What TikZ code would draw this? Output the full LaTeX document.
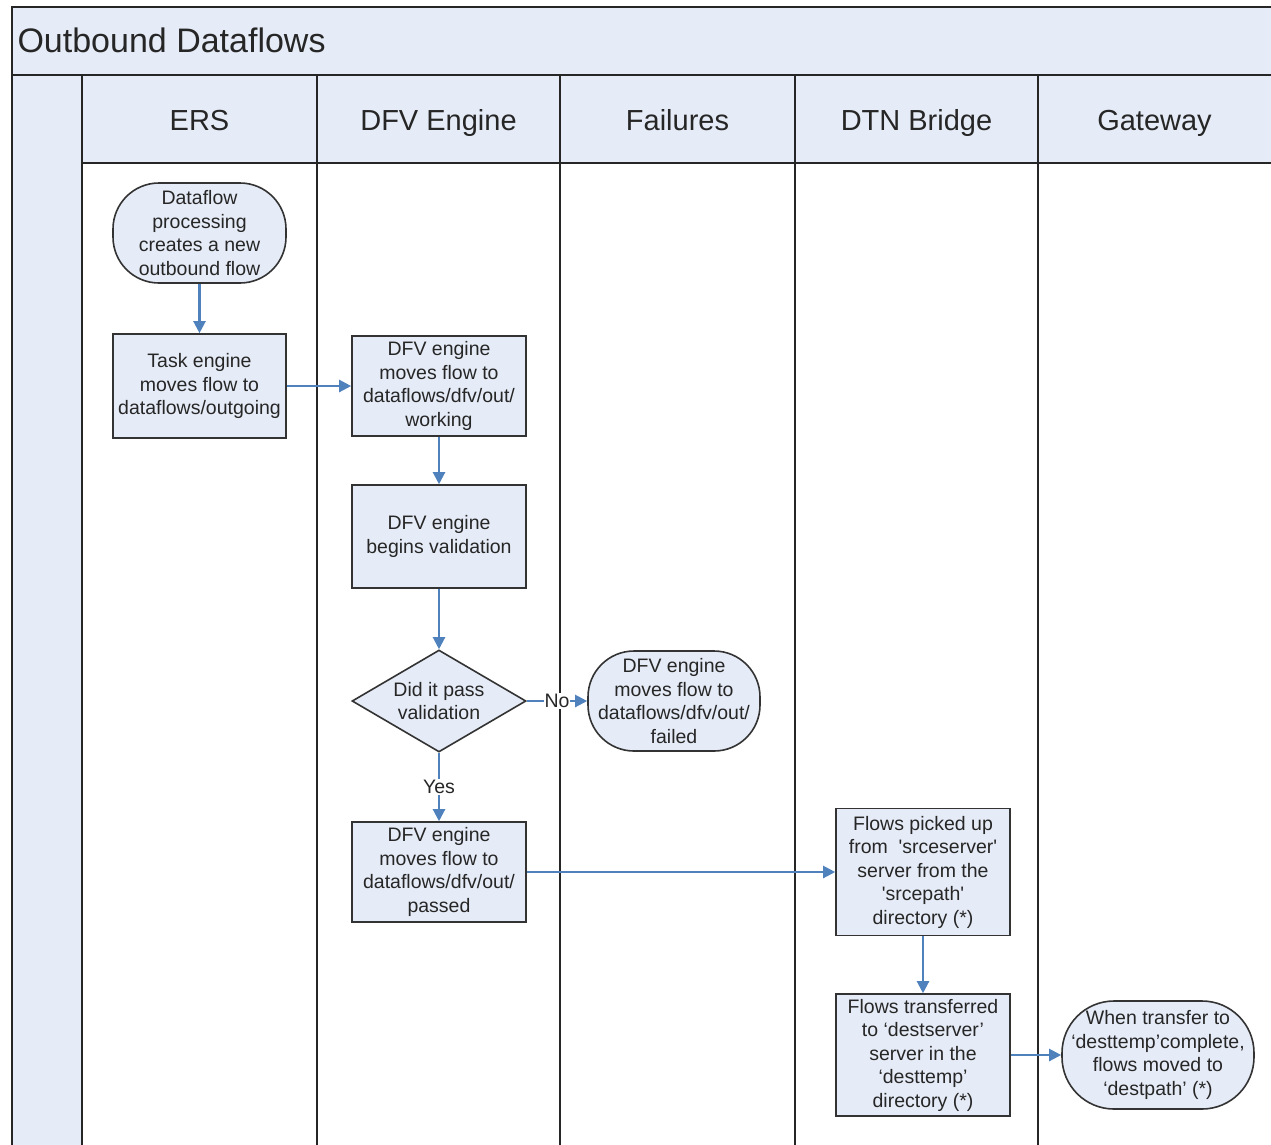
\documentclass[tikz,border=0pt]{standalone}
\usepackage{fontspec}
\setmainfont{Liberation Sans}
\usetikzlibrary{shapes.geometric,arrows.meta}
\definecolor{lanefill}{HTML}{E6ECF7}
\definecolor{flowblue}{HTML}{4F81BD}
\definecolor{boxline}{HTML}{333333}
\definecolor{txt}{HTML}{262626}
\begin{document}
\begin{tikzpicture}[x=1pt,y=-1pt,
  boxtext/.style={font=\fontsize{19.5}{23.5}\selectfont, align=center, text=txt},
  procbox/.style={boxtext, draw=boxline, line width=1.6pt, fill=lanefill, minimum width=174pt, inner sep=0pt},
  termbox/.style={procbox, rounded corners=46pt},
  decbox/.style={boxtext, diamond, aspect=1.7, draw=boxline, line width=1.6pt, fill=lanefill, minimum width=174pt, minimum height=102pt, inner sep=0pt},
  arr/.style={draw=flowblue, line width=2.2pt, -{Triangle[length=12pt,width=12pt]}},
  lbl/.style={boxtext, fill=white, inner sep=1pt},
  lane/.style={draw=black!85, line width=2.8pt},
  hdr/.style={font=\fontsize{29}{33}\selectfont, text=txt, anchor=base}
]
\clip (0,0) rectangle (1271,1144);
\fill[white] (0,0) rectangle (1271,1144);
% title band and header band
\fill[lanefill] (12,7) rectangle (1290,163);
\fill[lanefill] (12,75) rectangle (82,1150);
\draw[lane] (1290,7) -- (12,7) -- (12,1150);
\draw[lane] (12,75) -- (1290,75);
\draw[lane] (82,163) -- (1290,163);
\foreach \x in {82,317,560,795,1038} {\draw[lane] (\x,75) -- (\x,1150);}
\node[font=\fontsize{34}{38}\selectfont, text=txt, anchor=base west] (title) at (14,52) {Outbound Dataflows};
\node[hdr] (h1) at (199.5,130) {ERS};
\node[hdr] (h2) at (438.5,130) {DFV Engine};
\node[hdr] (h3) at (677.5,130) {Failures};
\node[hdr] (h4) at (916.5,130) {DTN Bridge};
\node[hdr] (h5) at (1154.5,130) {Gateway};
% nodes
\node[termbox, minimum width=173pt, minimum height=100pt] (start) at (199.5,233) {Dataflow\\processing\\creates a new\\outbound flow};
\node[procbox, minimum width=173pt, minimum height=104pt] (task) at (199.5,386) {Task engine\\moves flow to\\dataflows/outgoing};
\node[procbox, minimum height=100pt] (work) at (439,386) {DFV engine\\moves flow to\\dataflows/dfv/out/\\working};
\node[procbox, minimum height=103pt] (valid) at (439,536.5) {DFV engine\\begins validation};
\node[decbox] (dia) at (439,701) {Did it pass\\validation};
\node[termbox, minimum width=172pt, minimum height=100pt] (fail) at (674,701) {DFV engine\\moves flow to\\dataflows/dfv/out/\\failed};
\node[procbox, minimum height=100pt] (pass) at (439,872) {DFV engine\\moves flow to\\dataflows/dfv/out/\\passed};
\node[procbox, minimum height=127pt] (pick) at (923,872) {Flows picked up\\from\ \ \textquotesingle srceserver\textquotesingle\\server from the\\\textquotesingle srcepath\textquotesingle\\directory (*)};
\node[procbox, minimum height=122pt] (xfer) at (923,1055) {Flows transferred\\to ‘destserver’\\server in the\\‘desttemp’\\directory (*)};
\node[termbox, rounded corners=52pt, minimum width=192pt, minimum height=108pt] (done) at (1158,1055) {When transfer to\\‘desttemp’complete,\\flows moved to\\‘destpath’ (*)};
% connectors
\draw[arr] (start) -- (task);
\draw[arr] (task) -- (work);
\draw[arr] (work) -- (valid);
\draw[arr] (valid) -- (dia);
\draw[arr] (dia.east) -- node[lbl] (no) {No} (fail.west);
\draw[arr] (dia.south) -- node[lbl] (yes) {Yes} (pass.north);
\draw[arr] (pass) -- (pick);
\draw[arr] (pick) -- (xfer);
\draw[arr] (xfer) -- (done);
\end{tikzpicture}
\end{document}
